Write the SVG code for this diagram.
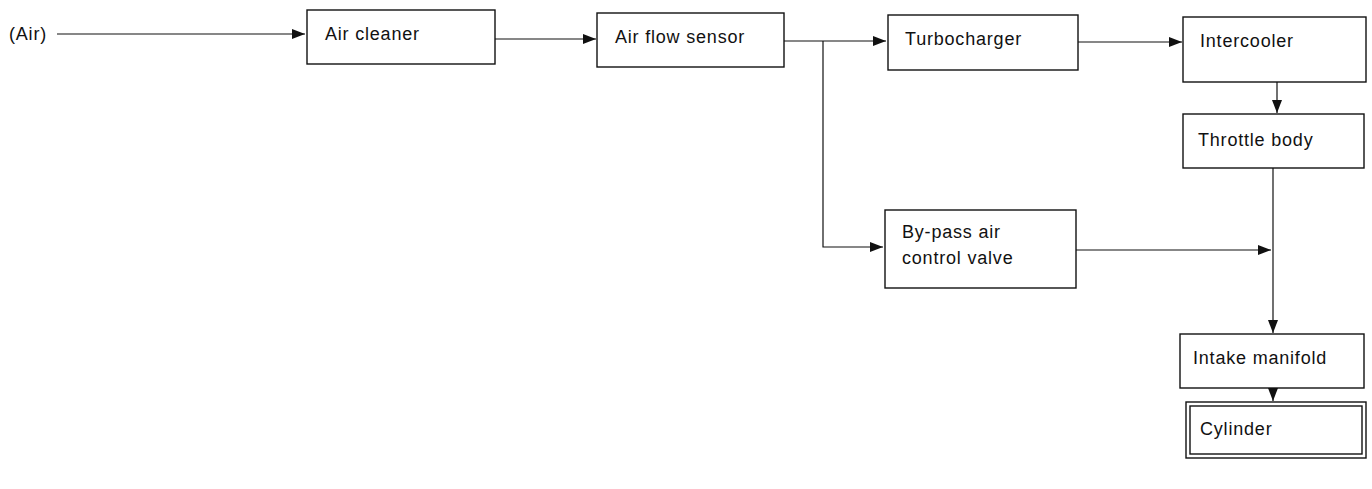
<svg xmlns="http://www.w3.org/2000/svg" width="1372" height="489" viewBox="0 0 1372 489">
<style>
.box{fill:#fff;stroke:#111;stroke-width:1.4}
.lbl{font-family:"Liberation Sans",Arial,sans-serif;font-size:18px;fill:#111;letter-spacing:0.8px}
.ln{fill:none;stroke:#111;stroke-width:1.2}
</style>
<defs>
<marker id="ah" viewBox="0 0 13 10" refX="13" refY="5" markerWidth="13" markerHeight="10" markerUnits="userSpaceOnUse" orient="auto">
<path d="M0,0 L13,5 L0,10 z" fill="#111"/>
</marker>
</defs>
<rect width="1372" height="489" fill="#fff"/>
<g id="connectors">
<line class="ln" x1="57" y1="34" x2="305" y2="34" marker-end="url(#ah)"/>
<line class="ln" x1="495" y1="39" x2="596" y2="39" marker-end="url(#ah)"/>
<line class="ln" x1="784" y1="41" x2="886" y2="41" marker-end="url(#ah)"/>
<polyline class="ln" points="823,41 823,247 883,247" marker-end="url(#ah)"/>
<line class="ln" x1="1078" y1="42" x2="1182" y2="42" marker-end="url(#ah)"/>
<line class="ln" x1="1277" y1="82" x2="1277" y2="113" marker-end="url(#ah)"/>
<line class="ln" x1="1273" y1="168" x2="1273" y2="333" marker-end="url(#ah)"/>
<line class="ln" x1="1076" y1="250" x2="1271" y2="250" marker-end="url(#ah)"/>
<line class="ln" x1="1273" y1="388" x2="1273" y2="401" marker-end="url(#ah)"/>
</g>
<g id="air"><text class="lbl" x="9" y="40">(Air)</text></g>
<g id="air-cleaner"><rect class="box" x="307" y="10" width="188" height="54"/><text class="lbl" x="325" y="40">Air cleaner</text></g>
<g id="air-flow-sensor"><rect class="box" x="597" y="13" width="187" height="54"/><text class="lbl" x="615" y="43">Air flow sensor</text></g>
<g id="turbocharger"><rect class="box" x="888" y="15" width="190" height="55"/><text class="lbl" x="905" y="45">Turbocharger</text></g>
<g id="intercooler"><rect class="box" x="1183" y="17" width="183" height="65"/><text class="lbl" x="1200" y="47">Intercooler</text></g>
<g id="throttle-body"><rect class="box" x="1183" y="114" width="181" height="54"/><text class="lbl" x="1198" y="146">Throttle body</text></g>
<g id="bypass-valve"><rect class="box" x="885" y="210" width="191" height="78"/><text class="lbl" x="902" y="238">By-pass air</text><text class="lbl" x="902" y="264">control valve</text></g>
<g id="intake-manifold"><rect class="box" x="1180" y="334" width="184" height="54"/><text class="lbl" x="1193" y="364">Intake manifold</text></g>
<g id="cylinder"><rect class="box" x="1186" y="402" width="180" height="56"/><rect class="box" x="1190" y="406" width="172" height="48"/><text class="lbl" x="1200" y="435">Cylinder</text></g>
</svg>
